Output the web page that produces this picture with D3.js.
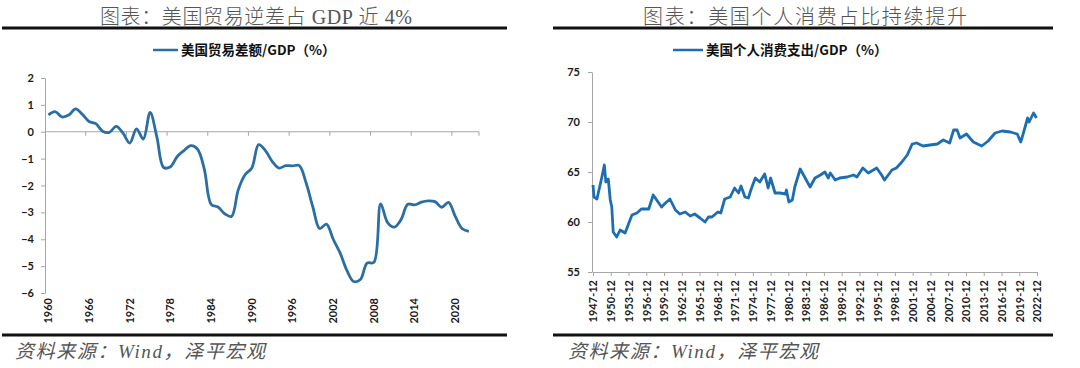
<!DOCTYPE html>
<html>
<head>
<meta charset="utf-8">
<script src="https://cdn.jsdelivr.net/npm/d3@7"></script>
<style>
  body { margin: 0; background: #fff; }
  svg { display: block; }
</style>
</head>
<body>
<svg id="chart" width="1080" height="368"></svg>
<script>
// ---- data: left panel, US trade balance / GDP (%), annual
const tradeYears = d3.range(1960, 2024);   // 2023 is an empty category slot, as in the source
const tradeBalance = [
  0.63, 0.75, 0.55, 0.62, 0.85, 0.65, 0.38, 0.30, 0.02, -0.02,
  0.20, -0.05, -0.42, 0.11, -0.27, 0.72, -0.20, -1.33, -1.30, -0.92,
  -0.70, -0.52, -0.65, -1.40, -2.70, -2.80, -3.05, -3.15, -2.16, -1.60,
  -1.35, -0.48, -0.70, -1.10, -1.35, -1.26, -1.27, -1.26, -1.90, -2.80,
  -3.60, -3.44, -4.00, -4.50, -5.15, -5.57, -5.50, -4.89, -4.86, -2.68,
  -3.37, -3.55, -3.27, -2.70, -2.72, -2.62, -2.57, -2.60, -2.81, -2.63,
  -3.15, -3.60, -3.71
];
const tradeYTicks = [2, 1, 0, -1, -2, -3, -4, -5, -6];
const tradeXLabels = [1960, 1966, 1972, 1978, 1984, 1990, 1996, 2002, 2008, 2014, 2020];

// ---- data: right panel, US personal consumption / GDP (%)
const pceDates = [
  "1947-12", "1948-02", "1948-08", "1949-06", "1949-11", "1950-02", "1950-07", "1950-11",
  "1951-02", "1951-05", "1951-12", "1952-07", "1953-05", "1954-07", "1955-05", "1956-02",
  "1957-05", "1958-02", "1958-09", "1959-07", "1960-03", "1960-12", "1961-11", "1962-08",
  "1963-07", "1964-05", "1965-02", "1966-01", "1966-11", "1967-06", "1968-01", "1969-01",
  "1969-07", "1970-03", "1971-02", "1971-11", "1972-07", "1972-12", "1973-08", "1974-03",
  "1974-08", "1975-05", "1976-02", "1976-12", "1977-07", "1977-12", "1978-09", "1979-07",
  "1980-06", "1980-08", "1981-01", "1981-08", "1982-01", "1982-12", "1983-09", "1984-08",
  "1985-06", "1986-05", "1987-02", "1987-09", "1988-01", "1988-11", "1989-08", "1990-11",
  "1991-12", "1992-07", "1993-07", "1994-06", "1995-11", "1996-09", "1997-03", "1998-06",
  "1999-03", "2000-02", "2001-01", "2001-11", "2002-08", "2003-09", "2004-11", "2006-02",
  "2007-02", "2008-03", "2008-11", "2009-06", "2009-12", "2011-01", "2012-03", "2013-08",
  "2014-09", "2015-11", "2017-01", "2018-06", "2019-08", "2020-03", "2020-09", "2021-05",
  "2021-08", "2022-05", "2022-11"
];
const pceValues = [
  63.7, 62.5, 62.3, 64.5, 65.7, 64.0, 64.3, 62.2,
  61.5, 59.0, 58.5, 59.2, 58.9, 60.7, 60.9, 61.3,
  61.3, 62.7, 62.2, 61.5, 61.9, 62.3, 61.2, 60.8,
  61.0, 60.6, 60.8, 60.4, 60.0, 60.5, 60.5, 61.0,
  60.9, 62.3, 62.5, 63.4, 62.9, 63.6, 62.5, 62.4,
  63.2, 64.4, 64.0, 64.8, 63.4, 64.4, 62.9, 62.9,
  62.8, 63.2, 62.0, 62.2, 63.5, 65.3, 64.5, 63.5,
  64.4, 64.7, 65.0, 64.4, 64.9, 64.2, 64.4, 64.5,
  64.7, 64.5, 65.4, 64.9, 65.4, 64.7, 64.2, 65.2,
  65.4, 66.0, 66.7, 67.8, 67.9, 67.6, 67.7, 67.8,
  68.2, 67.9, 69.2, 69.2, 68.4, 68.8, 68.0, 67.6,
  68.1, 68.9, 69.1, 69.0, 68.8, 68.0, 69.0, 70.4,
  70.0, 70.9, 70.4
];
const pceYTicks = [55, 60, 65, 70, 75];
const pceXLabels = d3.range(1947, 2023, 3).map(y => y + "-12");

const svg = d3.select("#chart");
const parseMonth = d3.timeParse("%Y-%m");
const axisColor = "#a6a6a6";
const tickFont = "Lato, 'Noto Sans', sans-serif";
const titleFont = "'Liberation Serif', 'Noto Sans CJK SC', serif";
const cjkBold = "'Noto Sans CJK SC', 'Noto Sans', sans-serif";

// frame pieces shared by both panels: title, rules, legend, source note
function drawFrame(opt) {
  svg.append("text")
    .attr("x", opt.titleX).attr("y", 24)
    .attr("textLength", opt.titleW).attr("lengthAdjust", "spacing")
    .style("font-family", titleFont).style("font-size", "20px")
    .style("font-weight", 300).attr("fill", "#555")
    .text(opt.title);

  [28, 335].forEach(y => {
    svg.append("line")
      .attr("x1", opt.ruleX1).attr("x2", opt.ruleX2)
      .attr("y1", y).attr("y2", y)
      .attr("stroke", "#111").attr("stroke-width", 3);
  });

  svg.append("line")
    .attr("x1", opt.legX).attr("x2", opt.legX + opt.legW)
    .attr("y1", 50).attr("y2", 50)
    .attr("stroke", opt.color).attr("stroke-width", 2.5);
  svg.append("text")
    .attr("x", opt.legX + opt.legW + 3).attr("y", 55)
    .style("font-family", cjkBold).style("font-size", "13.5px")
    .style("font-weight", 700).attr("fill", "#111")
    .text(opt.legend);

  svg.append("text")
    .attr("x", opt.noteX).attr("y", 358)
    .attr("textLength", 250).attr("lengthAdjust", "spacing")
    .style("font-family", titleFont).style("font-size", "19px")
    .style("font-style", "italic").attr("fill", "#555")
    .text("资料来源：Wind，泽平宏观");
}

function styleAxis(g) {
  g.selectAll("path, line").attr("stroke", axisColor);
  g.selectAll("text")
    .style("font-family", tickFont).style("font-size", "11px")
    .style("font-weight", 700).attr("fill", "#1a1a1a");
}

// ---------------- left panel ----------------
drawFrame({
  title: "图表：美国贸易逆差占 GDP 近 4%", titleX: 100, titleW: 312,
  ruleX1: 2, ruleX2: 507,
  legX: 153, legW: 25, legend: "美国贸易差额/GDP（%）",
  noteX: 15, color: "#2b6ea3"
});

let xTrade = d3.scaleBand()
  .domain(tradeYears.map(String))
  .range([45, 479]);
let yTrade = d3.scaleLinear()
  .domain([-6, 2])
  .range([293, 78]);

let gY = svg.append("g")
  .attr("transform", "translate(45,0)")
  .call(d3.axisLeft(yTrade).tickValues(tradeYTicks).tickSize(4).tickSizeOuter(0).tickPadding(7));
styleAxis(gY);

// zero line with tick marks at category boundaries
svg.append("line")
  .attr("x1", xTrade.range()[0]).attr("x2", xTrade.range()[1])
  .attr("y1", yTrade(0)).attr("y2", yTrade(0))
  .attr("stroke", axisColor);
svg.selectAll(".zeroTick")
  .data(tradeXLabels.slice(1))
  .enter().append("line")
  .attr("x1", d => xTrade(String(d))).attr("x2", d => xTrade(String(d)))
  .attr("y1", yTrade(0)).attr("y2", yTrade(0) + 4)
  .attr("stroke", axisColor);
svg.append("line")
  .attr("x1", xTrade.range()[1]).attr("x2", xTrade.range()[1])
  .attr("y1", yTrade(0)).attr("y2", yTrade(0) + 4)
  .attr("stroke", axisColor);

// year labels sit low, below the plot
let gX = svg.append("g")
  .attr("transform", "translate(0,298)")
  .call(d3.axisBottom(xTrade).tickValues(tradeXLabels.map(String)).tickSize(0));
gX.select(".domain").remove();
styleAxis(gX);
gX.selectAll("text")
  .attr("transform", "rotate(-90)")
  .attr("x", 0).attr("y", 0).attr("dy", ".35em")
  .style("text-anchor", "end");

let tradeLine = d3.line()
  .x((d, i) => xTrade(String(tradeYears[i])) + xTrade.bandwidth() / 2)
  .y(d => yTrade(d))
  .curve(d3.curveCatmullRom.alpha(0.5));
svg.append("path")
  .datum(tradeBalance)
  .attr("d", tradeLine)
  .attr("fill", "none")
  .attr("stroke", "#2b6ea3")
  .attr("stroke-width", 2.8)
  .attr("stroke-linejoin", "round");

// ---------------- right panel ----------------
drawFrame({
  title: "图表：美国个人消费占比持续提升", titleX: 643, titleW: 324,
  ruleX1: 553, ruleX2: 1053,
  legX: 673, legW: 30, legend: "美国个人消费支出/GDP（%）",
  noteX: 568, color: "#1c6db2"
});

let xPce = d3.scaleTime()
  .domain([parseMonth("1947-12"), parseMonth("2022-12")])
  .range([593, 1037]);
let yPce = d3.scaleLinear()
  .domain([55, 75])
  .range([272, 72]);

let gY2 = svg.append("g")
  .attr("transform", "translate(592,0)")
  .call(d3.axisLeft(yPce).tickValues(pceYTicks).tickSize(4).tickSizeOuter(0).tickPadding(8));
styleAxis(gY2);

let gX2 = svg.append("g")
  .attr("transform", "translate(0,272)")
  .call(d3.axisBottom(xPce)
    .tickValues(pceXLabels.map(parseMonth))
    .tickFormat(d3.timeFormat("%Y-%m"))
    .tickSize(4).tickSizeOuter(0));
styleAxis(gX2);
gX2.selectAll("text")
  .attr("transform", "rotate(-90)")
  .attr("x", -8).attr("y", 0).attr("dy", ".35em")
  .style("text-anchor", "end");

let pceLine = d3.line()
  .x((d, i) => xPce(parseMonth(pceDates[i])))
  .y(d => yPce(d));
svg.append("path")
  .datum(pceValues)
  .attr("d", pceLine)
  .attr("fill", "none")
  .attr("stroke", "#1c6db2")
  .attr("stroke-width", 2.8)
  .attr("stroke-linejoin", "round");
</script>
</body>
</html>
